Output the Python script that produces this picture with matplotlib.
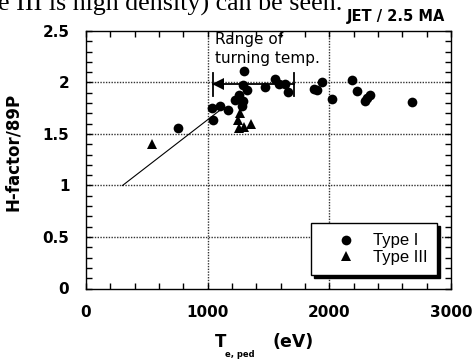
import matplotlib
matplotlib.use('Agg')
import matplotlib.pyplot as plt
from matplotlib.ticker import MultipleLocator

# Type I points (T_e,ped in eV, H-factor/89P)
type1_t = [760, 1040, 1035, 1100, 1165, 1225, 1255, 1280, 1293, 1293, 1320, 1300,
           1470, 1553, 1585, 1635, 1662, 1870, 1900, 1937, 2025, 2183, 2225,
           2295, 2310, 2334, 2681]
type1_h = [1.56, 1.64, 1.75, 1.77, 1.73, 1.83, 1.88, 1.77, 1.82, 1.98, 1.93, 2.11,
           1.96, 2.03, 1.99, 1.99, 1.91, 1.94, 1.93, 2.00, 1.84, 2.02, 1.92,
           1.82, 1.85, 1.88, 1.81]

# Type III points
type3_t = [545, 1265, 1252, 1258, 1300, 1360]
type3_h = [1.40, 1.70, 1.64, 1.56, 1.57, 1.60]

# guide line
trend_t = [300, 1100]
trend_h = [1.0, 1.73]

# range of turning temperature
range_t = [1046, 1711]
range_h = 1.99
range_cap = [1.87, 2.09]
arrow_t = 1085

fig = plt.figure(figsize=(4.75, 3.59), dpi=100)
ax = fig.add_axes([86 / 475, 1 - 288.5 / 359, 365 / 475, 257.5 / 359])

ax.plot(trend_t, trend_h, color='black', lw=0.8)
ax.plot(range_t, [range_h, range_h], color='black', lw=1.3)
for t in range_t:
    ax.plot([t, t], range_cap, color='black', lw=1.3)
ax.plot([arrow_t], [range_h], marker='<', color='black', ms=9, mew=0)

ax.plot(type1_t, type1_h, 'o', color='black', ms=7, mew=0, label='Type I')
ax.plot(type3_t, type3_h, '^', color='black', ms=7, mew=0, label='Type III')

ax.set_xlim(0, 3000)
ax.set_ylim(0, 2.5)
ax.xaxis.set_major_locator(MultipleLocator(1000))
ax.xaxis.set_minor_locator(MultipleLocator(200))
ax.yaxis.set_minor_locator(MultipleLocator(0.1))
ax.set_yticks([0, 0.5, 1, 1.5, 2, 2.5])
ax.set_yticklabels(['0', '0.5', '1', '1.5', '2', '2.5'])
ax.tick_params(which='both', direction='in', top=True, right=True,
               length=4, width=1, labelsize=11, pad=12)
for lab in ax.get_xticklabels() + ax.get_yticklabels():
    lab.set_fontweight('bold')
for s in ax.spines.values():
    s.set_linewidth(1.0)

for gx in [1000, 2000]:
    ax.axvline(gx, color='#333333', lw=1, ls=(0, (1, 1)), zorder=0)
for gy in [0.5, 1, 1.5, 2]:
    ax.axhline(gy, color='#333333', lw=1, ls=(0, (1, 1)), zorder=0)

ax.text(1060, 2.49, 'Range of\nturning temp.', fontsize=11, va='top', ha='left',
        linespacing=1.3)

ax.set_ylabel('H-factor/89P', fontsize=12, fontweight='bold')
ax.yaxis.set_label_coords(-0.175, 0.532)

leg = ax.legend(loc='lower left', bbox_to_anchor=(0.616, 0.052), frameon=True,
                fancybox=False, edgecolor='black', framealpha=1,
                shadow={'color': 'black', 'alpha': 1},
                prop={'family': 'Liberation Sans', 'size': 12},
                handlelength=3.0, handletextpad=0.1, borderpad=0.6,
                labelspacing=0.1, borderaxespad=0)
leg.get_frame().set_linewidth(1.0)

fig.text(445 / 475, 1 - 16 / 359, 'JET / 2.5 MA', fontsize=10.5, fontweight='bold',
         ha='right', va='center')
fig.text(-2 / 475, 1 - 11 / 359, 'e III is high density) can be seen.',
         family='Liberation Serif', fontsize=18.7, ha='left', va='baseline')

fig.text(215 / 475, 1 - 347 / 359, 'T', fontsize=12, fontweight='bold', va='baseline')
fig.text(225 / 475, 1 - 357 / 359, 'e, ped', fontsize=6, fontweight='bold', va='baseline')
fig.text(272 / 475, 1 - 347 / 359, '(eV)', fontsize=12.5, fontweight='bold', va='baseline')

fig.savefig('out.png', dpi=100)
